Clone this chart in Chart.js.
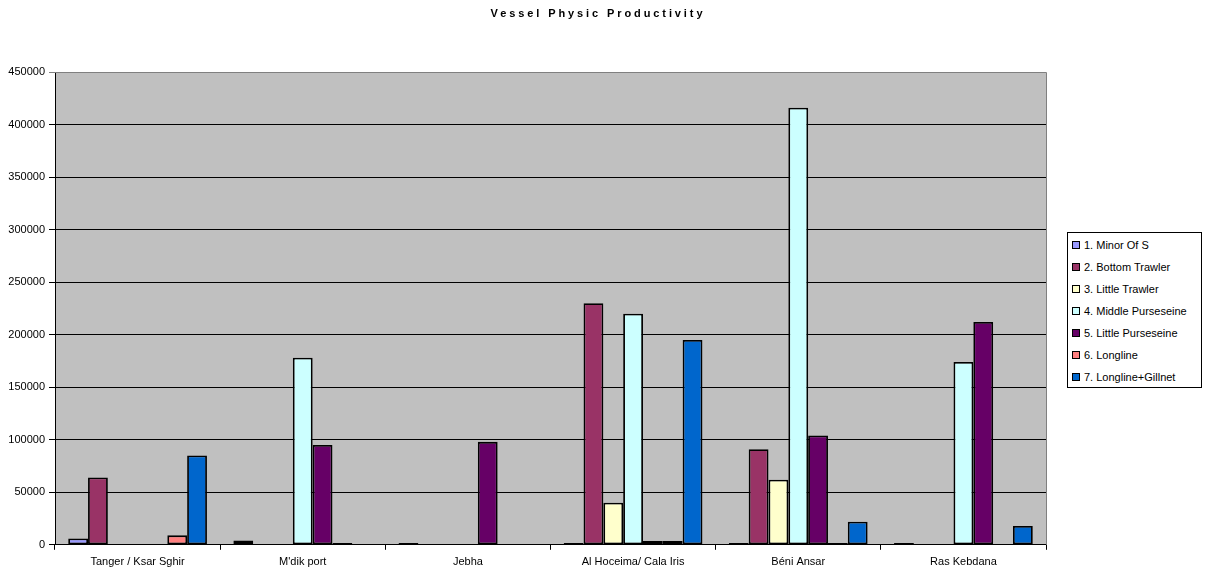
<!DOCTYPE html>
<html>
<head>
<meta charset="utf-8">
<script src="https://cdn.jsdelivr.net/npm/chart.js@4/dist/chart.umd.min.js"></script>
<style>
  html, body { margin: 0; padding: 0; background: #fff; }
  #wrap { position: relative; width: 1210px; height: 580px; }
  #title {
    position: absolute; left: 0; top: 7px; width: 1196px; text-align: center;
    font: bold 11px "Liberation Sans", Arial, sans-serif; letter-spacing: 2.9px; color: #000;
  }
  #legend {
    position: absolute; left: 1067px; top: 232px; width: 135px; height: 156px;
    border: 1px solid #000; background: #fff; box-sizing: border-box;
    font: 11px "Liberation Sans", Arial, sans-serif; color: #000;
  }
  .item { position: absolute; left: 4px; height: 14px; line-height: 14px; white-space: nowrap; }
  .sw { display: inline-block; width: 6px; height: 6px; border: 1px solid #000; margin-right: 4px; vertical-align: 0px; }
</style>
</head>
<body>
<div id="wrap">
  <canvas id="c" width="1210" height="580"></canvas>
  <div id="title">Vessel Physic Productivity</div>
  <div id="legend"></div>
</div>
<script>
// Ports along the coast
const ports = ["Tanger / Ksar Sghir", "M'dik port", "Jebha", "Al Hoceima/ Cala Iris", "Béni Ansar", "Ras Kebdana"];

// Fleet segments
const segments = ["1. Minor Of S", "2. Bottom Trawler", "3. Little Trawler", "4. Middle Purseseine",
                  "5. Little Purseseine", "6. Longline", "7. Longline+Gillnet"];

// Productivity per segment, one value per port (null = no vessels of that segment)
const minorOfS          = [6000, 4000, 1800, 1800, 1800, 1800];
const bottomTrawler     = [64000, null, null, 230000, 91000, null];
const littleTrawler     = [null, null, null, 40000, 62000, null];
const middlePurseseine  = [null, 178000, null, 220000, 416000, 174000];
const littlePurseseine  = [null, 95000, 98000, 3500, 104000, 212000];
const longline          = [9000, 1800, null, 3500, 1800, null];
const longlineGillnet   = [85000, null, null, 195000, 22000, 18000];

// Y axis range
const yMin = 0, yMax = 450000, yStep = 50000;

const seriesValues = [minorOfS, bottomTrawler, littleTrawler, middlePurseseine, littlePurseseine, longline, longlineGillnet];
const seriesColors = ["#9999FF", "#993366", "#FFFFCC", "#CCFFFF", "#660066", "#FF8080", "#0066CC"];

const datasets = segments.map((name, i) => ({
  label: name,
  data: seriesValues[i],
  backgroundColor: seriesColors[i],
  borderColor: "#000",
  borderWidth: 1.8,
  borderSkipped: false,
  categoryPercentage: 0.84,
  barPercentage: 1.0
}));

// Grey plot area with a thin grey frame on top and right
const plotBackground = {
  id: "plotBackground",
  beforeDraw(chart) {
    const { ctx, chartArea: a } = chart;
    ctx.save();
    ctx.fillStyle = "#fff";
    ctx.fillRect(0, 0, chart.width, chart.height);
    ctx.fillStyle = "#C0C0C0";
    ctx.fillRect(a.left, a.top, a.right - a.left, a.bottom - a.top);
    ctx.restore();
  },
  afterDraw(chart) {
    const { ctx, chartArea: a } = chart;
    ctx.save();
    ctx.strokeStyle = "#808080";
    ctx.lineWidth = 1;
    ctx.beginPath();
    ctx.moveTo(a.left, Math.round(a.top) + 0.5);
    ctx.lineTo(Math.round(a.right) + 0.5, Math.round(a.top) + 0.5);
    ctx.lineTo(Math.round(a.right) + 0.5, a.bottom);
    ctx.stroke();
    ctx.restore();
  }
};

const font = { family: "'Liberation Sans', Arial, sans-serif", size: 11 };

new Chart(document.getElementById("c"), {
  type: "bar",
  data: { labels: ports, datasets },
  options: {
    responsive: false,
    animation: false,
    layout: { padding: { left: 0, right: 164, top: 72, bottom: 5 } },
    plugins: {
      legend: { display: false },
      title: { display: false },
      tooltip: { enabled: false }
    },
    scales: {
      x: {
        grid: { offset: true, drawOnChartArea: false, drawTicks: true, tickLength: 5, color: "#000" },
        border: { color: "#000", width: 1 },
        ticks: { color: "#000", font, padding: 6, maxRotation: 0, autoSkip: false }
      },
      y: {
        min: yMin, max: yMax,
        afterFit(scale) { scale.width = 55; },
        grid: {
          color: ctx => (ctx.tick && ctx.tick.value === yMax) ? "#808080" : "#000",
          tickLength: 6, lineWidth: 1
        },
        border: { color: "#000", width: 1 },
        ticks: { stepSize: yStep, color: "#000", font, padding: 4, callback: v => String(v) }
      }
    }
  },
  plugins: [plotBackground]
});

// Legend box built from the same segment names and colours
const legend = document.getElementById("legend");
segments.forEach((name, i) => {
  const div = document.createElement("div");
  div.className = "item";
  div.style.top = (5 + i * 22) + "px";
  const sw = document.createElement("span");
  sw.className = "sw";
  sw.style.background = seriesColors[i];
  div.appendChild(sw);
  div.appendChild(document.createTextNode(name));
  legend.appendChild(div);
});
</script>
</body>
</html>
